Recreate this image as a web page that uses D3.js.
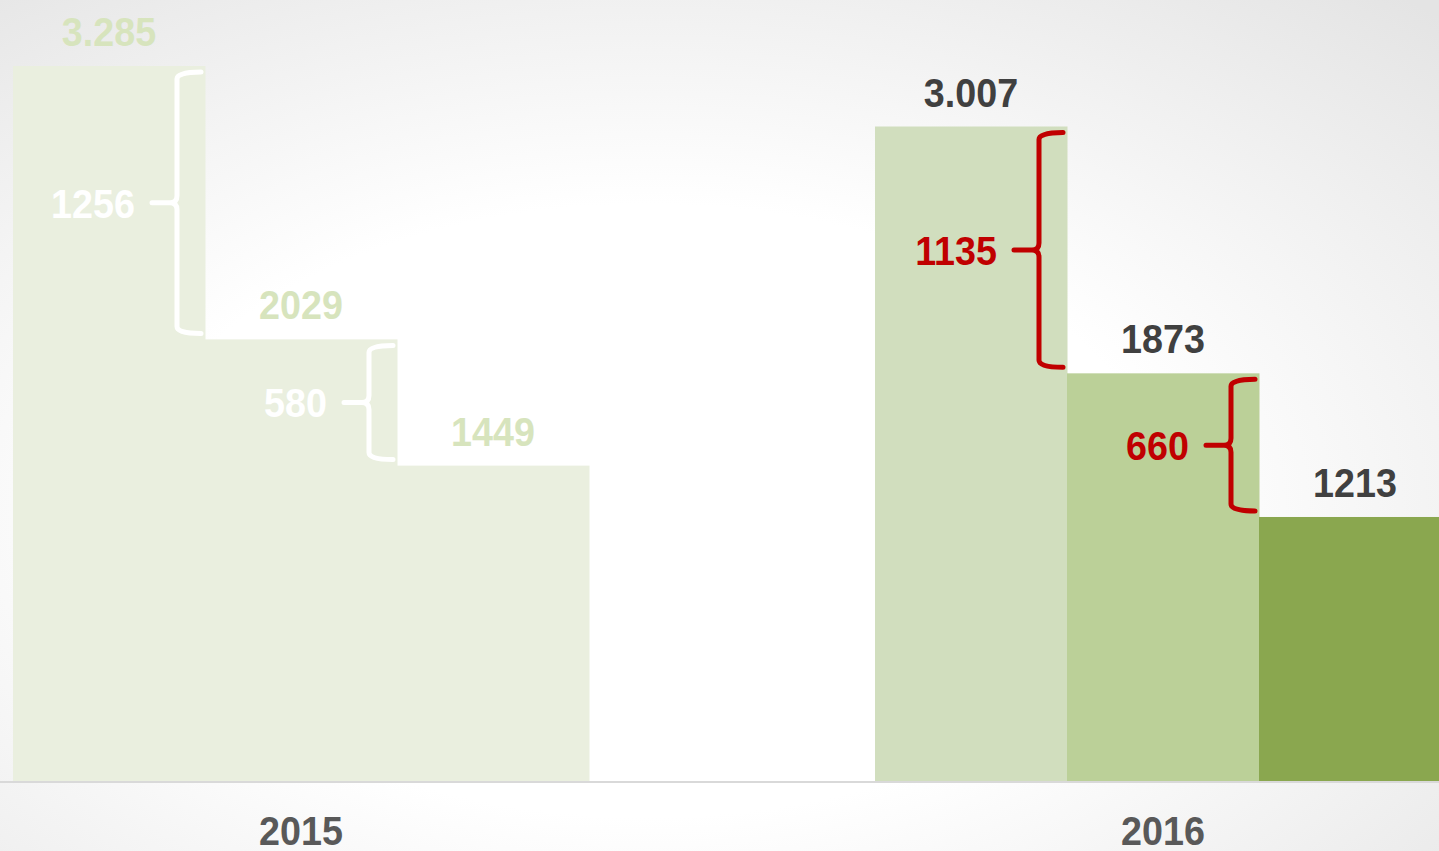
<!DOCTYPE html>
<html>
<head>
<meta charset="utf-8">
<script src="https://cdn.jsdelivr.net/npm/d3@7"></script>
<style>
  html, body { margin: 0; padding: 0; overflow: hidden; }
  svg { display: block; }
  text { font-family: "Liberation Sans Narrow", "Arial Narrow", "Liberation Sans", sans-serif; font-weight: bold; }
</style>
</head>
<body>
<svg id="chart" width="1439" height="851"></svg>
<script>
// ---- data ----
const years = ["2015", "2016"];
const values2015 = [3285, 2029, 1449];
const values2016 = [3007, 1873, 1213];
const labels2015 = ["3.285", "2029", "1449"];
const labels2016 = ["3.007", "1873", "1213"];
const diffs2015 = ["1256", "580"];
const diffs2016 = ["1135", "660"];

const barColors2015 = ["#EAEFDF", "#EAEFDF", "#EAEFDF"];
const barColors2016 = ["#D1DEBE", "#BBD098", "#8AA74F"];

const W = 1439, H = 851;
const svg = d3.select("#chart");

// background
const defs = svg.append("defs");
const rg = defs.append("radialGradient").attr("id", "bg")
  .attr("cx", "45%").attr("cy", "60%").attr("r", "80%")
  .attr("gradientUnits", "objectBoundingBox");
rg.append("stop").attr("offset", "0%").attr("stop-color", "#FFFFFF");
rg.append("stop").attr("offset", "45%").attr("stop-color", "#FFFFFF");
rg.append("stop").attr("offset", "100%").attr("stop-color", "#E4E4E4");
svg.append("rect").attr("width", W).attr("height", H).attr("fill", "url(#bg)");

// scales
const y = d3.scaleLinear().domain([0, 3285]).range([781, 66]);
const x0 = d3.scaleBand().domain(years).range([13, 1451]).paddingInner(286 / 862).paddingOuter(0);
const x1 = d3.scaleBand().domain([0, 1, 2]).range([0, x0.bandwidth()]).padding(0);

const groups = [
  { year: "2015", values: values2015, labels: labels2015, diffs: diffs2015, colors: barColors2015,
    labelColor: "#D7E4BD", braceColor: "#FFFFFF", diffColor: "#FFFFFF" },
  { year: "2016", values: values2016, labels: labels2016, diffs: diffs2016, colors: barColors2016,
    labelColor: "#404040", braceColor: "#C00000", diffColor: "#C00000" }
];

const fs = 41;
const SX = 0.92;
// condense a text horizontally around its anchor point
function condense(sel) {
  sel.each(function () {
    const t = d3.select(this);
    const tx = +t.attr("x"), ty = +t.attr("y");
    t.attr("x", 0).attr("y", 0).attr("transform", `translate(${tx},${ty}) scale(${SX},1)`);
  });
}

groups.forEach(g => {
  const gx = x0(g.year);
  const G = svg.append("g").attr("transform", `translate(${gx},0)`);
  // bars
  G.selectAll("rect.bar").data(g.values).join("rect")
    .attr("class", "bar")
    .attr("x", (d, i) => x1(i))
    .attr("y", d => y(d))
    .attr("width", x1.bandwidth() + 0.5)
    .attr("height", d => y(0) - y(d))
    .attr("fill", (d, i) => g.colors[i]);
  // value labels
  G.selectAll("text.val").data(g.values).join("text")
    .attr("class", "val")
    .attr("x", (d, i) => x1(i) + x1.bandwidth() / 2)
    .attr("y", d => y(d) - 20)
    .attr("text-anchor", "middle")
    .attr("font-size", fs)
    .attr("fill", g.labelColor)
    .text((d, i) => g.labels[i])
    .call(condense);
  // braces
  g.diffs.forEach((lab, i) => {
    const top = y(g.values[i]) + 6;
    const bot = y(g.values[i + 1]) - 6;
    const mid = (top + bot) / 2;
    const right = x1(i) + x1.bandwidth() - 4;
    const vx = right - 24;
    const r = 7;
    const p = d3.path();
    p.moveTo(right, top);
    p.quadraticCurveTo(vx, top, vx, top + r);
    p.lineTo(vx, mid - r);
    p.quadraticCurveTo(vx, mid, vx - r, mid);
    p.lineTo(vx - 25, mid);
    p.moveTo(vx - r, mid);
    p.quadraticCurveTo(vx, mid, vx, mid + r);
    p.lineTo(vx, bot - r);
    p.quadraticCurveTo(vx, bot, right, bot);
    G.append("path").attr("d", p.toString())
      .attr("fill", "none").attr("stroke", g.braceColor)
      .attr("stroke-width", 5).attr("stroke-linecap", "round").attr("stroke-linejoin", "round");
    G.append("text")
      .attr("x", vx - 42)
      .attr("y", mid + 15)
      .attr("text-anchor", "end")
      .attr("font-size", fs)
      .attr("fill", g.diffColor)
      .text(lab)
      .call(condense);
  });
});

// baseline axis
svg.append("line").attr("x1", 0).attr("x2", W).attr("y1", y(0) + 1).attr("y2", y(0) + 1)
  .attr("stroke", "#D9D9D9").attr("stroke-width", 2);

// year labels
const xAxis = d3.axisBottom(x0).tickSize(0).tickPadding(0);
const ax = svg.append("g").attr("transform", `translate(0,${y(0)})`).call(xAxis);
ax.select(".domain").remove();
ax.selectAll(".tick text")
  .attr("dy", null)
  .attr("x", 0)
  .attr("y", 64)
  .attr("font-size", fs)
  .attr("fill", "#595959")
  .style("font-family", "\"Liberation Sans Narrow\", \"Arial Narrow\", \"Liberation Sans\", sans-serif")
  .style("font-weight", "bold")
  .call(condense);
</script>
</body>
</html>
